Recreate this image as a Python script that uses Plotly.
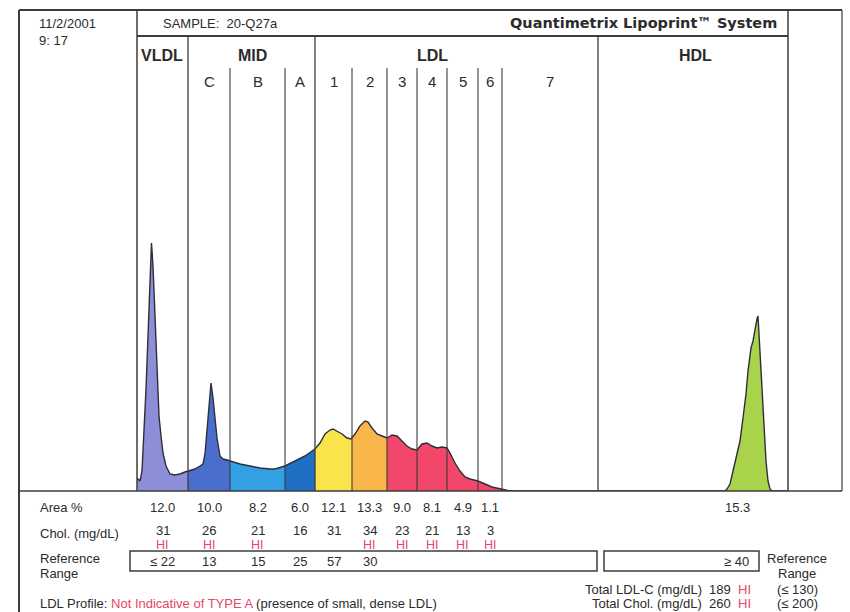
import numpy as np
import plotly.graph_objects as go

W, H = 850, 612

# ---------------- data ----------------
# densitometric scan: migration position (scan units) and trace height
scan_x = [137, 140, 142, 144, 146, 148, 150, 151.5, 153, 155, 157, 159, 161, 163, 166, 170, 175, 180, 185, 188,
          195, 200, 203, 205, 207, 209, 211, 213, 215, 217, 220, 223, 227, 230,
          240, 250, 260, 270, 275, 285,
          295, 305, 315,
          320, 325, 330, 333, 337, 342, 347, 351, 355, 360, 365, 368, 372, 377, 382, 387,
          392, 397, 402, 407, 412, 417, 422, 427, 432, 437, 442, 447, 450, 455, 460, 465,
          470, 478, 485, 492, 501, 508, 515,
          600, 640, 725, 727, 730, 733, 737, 740, 743, 746, 748, 751, 753, 755, 757, 758,
          759, 760, 762, 764, 766, 768, 770, 772, 788]
scan_y = [13, 10, 20, 58, 102, 155, 215, 248, 225, 172, 125, 75, 55, 38, 25, 17, 16, 17, 19, 20,
          22, 25, 27, 37, 60, 87, 108, 93, 70, 53, 35, 32, 31, 30,
          27, 25, 23, 22, 22, 25,
          30, 35, 42,
          48, 57, 61, 62, 60, 57, 53, 52, 57, 65, 70, 69, 63, 57, 55, 53,
          56, 55, 50, 45, 42, 41, 47, 48, 45, 43, 44, 43, 38, 28, 20, 14,
          12, 10, 7, 4, 2, 0.5, 0,
          0, 0, 0, 2, 7, 20, 37, 50, 73, 97, 120, 143, 150, 163, 172, 175,
          157, 133, 93, 60, 30, 10, 2, 0, 0]

fractions = ["VLDL", "C", "B", "A", "1", "2", "3", "4", "5", "6", "7", "HDL"]
bounds = [137, 188, 230, 285, 315, 352, 387, 417, 447, 478, 502, 598, 788]
frac_colors = ["#8e8ed8", "#4b6ecd", "#34a0e4", "#1f70c4", "#fbe34c", "#f8b64b",
               "#f2476b", "#f2476b", "#f2476b", "#f2476b", "#f2476b", "#a8d34b"]

area_pct = ["12.0", "10.0", "8.2", "6.0", "12.1", "13.3", "9.0", "8.1", "4.9", "1.1", "", "15.3"]
chol = ["31", "26", "21", "16", "31", "34", "23", "21", "13", "3", "", ""]
chol_hi = [1, 1, 1, 0, 0, 1, 1, 1, 1, 1, 0, 0]
ref_range = ["≤ 22", "13", "15", "25", "57", "30", "", "", "", "", "", ""]
hdl_ref = "≥ 40"

group_labels = ["VLDL", "MID", "LDL", "HDL"]
group_label_x = [162, 252, 432, 695]
sub_labels = ["C", "B", "A", "1", "2", "3", "4", "5", "6", "7"]

total_rows = ["Total LDL-C (mg/dL)", "Total Chol. (mg/dL)"]
total_vals = ["189", "260"]
total_ref = ["(≤ 130)", "(≤ 200)"]

# ---------------- figure ----------------
TXT = "#2b2b2b"
RED = "#e8456a"
LINE = "#3c3c3c"
FONT = "Liberation Sans, Arial, sans-serif"

def xp(px):
    return px / W

def yp(py):
    return 1 - py / H

fig = go.Figure()

sx = np.array(scan_x, dtype=float)
sy = np.array(scan_y, dtype=float)
for i, name in enumerate(fractions):
    a, b = bounds[i], bounds[i + 1]
    inside = (sx > a) & (sx < b)
    xs = np.concatenate([[a], sx[inside], [b]])
    ys = np.concatenate([[np.interp(a, sx, sy)], sy[inside], [np.interp(b, sx, sy)]])
    fig.add_trace(go.Scatter(x=xs, y=ys, mode="lines", fill="tozeroy",
                             fillcolor=frac_colors[i], line=dict(width=0),
                             hoverinfo="skip", showlegend=False))

fig.add_trace(go.Scatter(x=scan_x, y=scan_y, mode="lines",
                         line=dict(color="#2e2e3a", width=1.4),
                         hoverinfo="skip", showlegend=False))

shapes = []
def pline(x0, y0, x1, y1, w=1.5, c=LINE):
    shapes.append(dict(type="line", xref="paper", yref="paper",
                       x0=xp(x0), y0=yp(y0), x1=xp(x1), y1=yp(y1),
                       line=dict(color=c, width=w), layer="above"))

# outer frame and header
pline(19, 10, 842, 10, 2)
pline(19, 10, 19, 612, 2)
pline(842, 10, 842, 491, 1.2)
pline(137, 10, 137, 491, 1.5)
pline(788, 10, 788, 491, 1.5)
pline(137, 36, 788, 36, 2)
pline(19, 491, 842, 491, 1.6)

# fraction dividers (data x)
major = {188, 315, 598}
for bx in bounds[1:-1]:
    top = 36 if bx in major else 68
    shapes.append(dict(type="line", xref="x", yref="paper",
                       x0=bx, x1=bx, y0=yp(491), y1=yp(top),
                       line=dict(color=LINE, width=1.3 if bx in major else 1.1),
                       layer="above"))

# reference boxes
shapes.append(dict(type="rect", xref="paper", yref="paper",
                   x0=xp(130), x1=xp(597), y0=yp(571), y1=yp(551),
                   line=dict(color=LINE, width=1.5)))
shapes.append(dict(type="rect", xref="paper", yref="paper",
                   x0=xp(604), x1=xp(759), y0=yp(571), y1=yp(551),
                   line=dict(color=LINE, width=1.5)))

ann = []
def ptext(x, y, t, size=13, xa="left", color=TXT, bold=False, fam=FONT):
    ann.append(dict(x=xp(x), y=yp(y), xref="paper", yref="paper", text=t,
                    showarrow=False, xanchor=xa, yanchor="middle",
                    font=dict(size=size, color=color, family=fam,
                              weight="bold" if bold else "normal")))

def dtext(x, y, t, size=13, color=TXT, bold=False):
    ann.append(dict(x=x, y=yp(y), xref="x", yref="paper", text=t,
                    showarrow=False, xanchor="center", yanchor="middle",
                    font=dict(size=size, color=color, family=FONT,
                              weight="bold" if bold else "normal")))

# header texts
ptext(37, 24, "11/2/2001", 13)
ptext(37, 41, "9: 17", 13)
ptext(161, 24, "SAMPLE:  20-Q27a", 13)
ptext(779, 23, "Quantimetrix Lipoprint™ System", 14.5, xa="right", bold=True,
      fam="DejaVu Sans, sans-serif")

for lab, gx in zip(group_labels, group_label_x):
    dtext(gx, 55, lab, 16, bold=True)

centers = [(bounds[i] + bounds[i + 1]) / 2 for i in range(len(fractions))]
for lab, cx in zip(sub_labels, centers[1:11]):
    dtext(cx, 82, lab, 15)

# table rows
ptext(38, 507, "Area %", 13)
ptext(38, 533, "Chol. (mg/dL)", 13)
ptext(38, 558, "Reference", 13)
ptext(38, 573, "Range", 13)
for i, cx in enumerate(centers):
    lx = 737 if fractions[i] == "HDL" else cx
    if area_pct[i]:
        dtext(lx, 507, area_pct[i], 13)
    if chol[i]:
        dtext(cx, 530, chol[i], 13)
    if chol_hi[i]:
        dtext(cx, 544.5, "HI", 12.5, color=RED)
    if ref_range[i]:
        dtext(cx, 561, ref_range[i], 13)

ptext(751, 561, hdl_ref, 13, xa="right")
ptext(797, 558, "Reference", 13, xa="center")
ptext(797, 573, "Range", 13, xa="center")

for k, (lab, val, ref) in enumerate(zip(total_rows, total_vals, total_ref)):
    yy = 589 + k * 14.5
    ptext(704, yy, lab, 13, xa="right")
    ptext(720, yy, val, 13, xa="center")
    ptext(744, yy, "HI", 13, xa="center", color=RED)
    ptext(797, yy, ref, 13, xa="center")

ptext(38, 603.5, "LDL Profile: <span style='color:%s'>Not Indicative of TYPE A</span> "
      "(presence of small, dense LDL)" % RED, 13)

fig.update_layout(
    width=W, height=H, autosize=False,
    margin=dict(l=0, r=0, t=0, b=0),
    paper_bgcolor="white", plot_bgcolor="white",
    xaxis=dict(domain=[xp(137), xp(788)], range=[137, 788], visible=False, fixedrange=True),
    yaxis=dict(domain=[yp(491), yp(37)], range=[0, 454], visible=False, fixedrange=True),
    shapes=shapes, annotations=ann, showlegend=False,
)

fig.write_html("out.html")
